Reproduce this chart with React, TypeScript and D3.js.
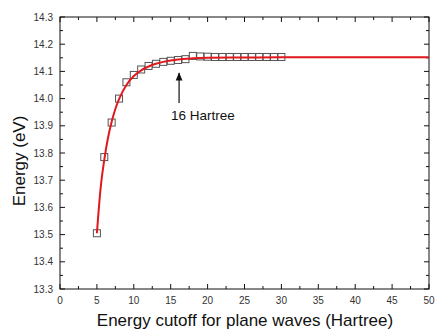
import React from "react";
import * as d3 from "d3";

// Calculated total energy at each plane-wave cutoff (Hartree -> eV)
const cutoffs = [5, 6, 7, 8, 9, 10, 11, 12, 13, 14, 15, 16, 17, 18, 19, 20, 21, 22, 23, 24, 25, 26, 27, 28, 29, 30];
const energies = [
  13.505, 13.785, 13.912, 14.0, 14.06, 14.087, 14.107, 14.12, 14.128, 14.135, 14.139, 14.142, 14.145,
  14.157, 14.155, 14.154, 14.153, 14.153, 14.153, 14.153, 14.153, 14.153, 14.153, 14.153, 14.153, 14.153,
];

// Fitted convergence curve
const fitX = [5, 5.5, 6, 6.5, 7, 7.5, 8, 9, 10, 11, 12, 13, 14, 15, 16, 18, 20, 25, 30, 40, 50];
const fitY = [
  13.505, 13.67, 13.775, 13.855, 13.915, 13.962, 13.998, 14.05, 14.083, 14.104, 14.118, 14.128, 14.135,
  14.14, 14.144, 14.148, 14.15, 14.151, 14.152, 14.152, 14.152,
];

const xTicks = [0, 5, 10, 15, 20, 25, 30, 35, 40, 45, 50];
const yTicks = [13.3, 13.4, 13.5, 13.6, 13.7, 13.8, 13.9, 14.0, 14.1, 14.2, 14.3];

const annotation = { x: 16, label: "16 Hartree" };

const W = 436;
const H = 331;
const M = { left: 60, right: 429, top: 17, bottom: 289 };

export default function App() {
  const x = d3.scaleLinear().domain([0, 50]).range([M.left, M.right]);
  const y = d3.scaleLinear().domain([13.3, 14.3]).range([M.bottom, M.top]);

  const line = d3
    .line<number>()
    .x((_, i) => x(fitX[i]))
    .y((d) => y(d))
    .curve(d3.curveMonotoneX);

  const xMinor = d3.range(0, 50.01, 2.5);
  const yMinor = d3.range(13.3, 14.301, 0.05);
  const font = "Arial, 'Liberation Sans', sans-serif";
  const sq = 7;
  const ax = x(annotation.x) + 1;

  return (
    <svg
      width={W}
      height={H}
      style={{ position: "absolute", left: 0, top: 0, background: "#fff" }}
      fontFamily={font}
    >
      <defs>
        <marker id="arrowHead" viewBox="0 0 10 10" refX="9" refY="5" markerWidth="7" markerHeight="9" orient="auto">
          <path d="M0,1 L10,5 L0,9 z" fill="#111" />
        </marker>
      </defs>

      {/* frame */}
      <rect
        x={M.left}
        y={M.top}
        width={M.right - M.left}
        height={M.bottom - M.top}
        fill="none"
        stroke="#111"
        strokeWidth={1}
      />

      {/* x ticks, bottom and top, pointing inward */}
      {xMinor.map((v) => {
        const major = Math.abs(v % 5) < 1e-6;
        const len = major ? 5 : 3;
        return (
          <g key={"xt" + v} stroke="#111" strokeWidth={1}>
            <line x1={x(v)} x2={x(v)} y1={M.bottom} y2={M.bottom - len} />
            <line x1={x(v)} x2={x(v)} y1={M.top} y2={M.top + len} />
          </g>
        );
      })}
      {/* y ticks, left and right */}
      {yMinor.map((v, i) => {
        const major = i % 2 === 0;
        const len = major ? 5 : 3;
        return (
          <g key={"yt" + i} stroke="#111" strokeWidth={1}>
            <line x1={M.left} x2={M.left + len} y1={y(v)} y2={y(v)} />
            <line x1={M.right} x2={M.right - len} y1={y(v)} y2={y(v)} />
          </g>
        );
      })}

      {/* tick labels */}
      {xTicks.map((v) => (
        <text key={"xl" + v} x={x(v)} y={303.5} fontSize={10} fill="#333" textAnchor="middle">
          {v}
        </text>
      ))}
      {yTicks.map((v) => (
        <text key={"yl" + v} x={53} y={y(v) + 3.5} fontSize={10} fill="#333" textAnchor="end">
          {v.toFixed(1)}
        </text>
      ))}

      {/* axis titles */}
      <text x={245} y={326} fontSize={17} fill="#111" textAnchor="middle">
        Energy cutoff for plane waves (Hartree)
      </text>
      <text
        transform={`translate(25,161) rotate(-90)`}
        fontSize={17}
        fill="#111"
        textAnchor="middle"
      >
        Energy (eV)
      </text>

      {/* data squares */}
      {cutoffs.map((c, i) => (
        <rect
          key={"p" + c}
          x={x(c) - sq / 2}
          y={y(energies[i]) - sq / 2}
          width={sq}
          height={sq}
          fill="none"
          stroke="#555"
          strokeWidth={1}
        />
      ))}

      {/* fitted curve */}
      <path d={line(fitY) || ""} fill="none" stroke="#e0191e" strokeWidth={2} />

      {/* annotation arrow */}
      <line x1={ax} x2={ax} y1={103} y2={73} stroke="#111" strokeWidth={1.2} markerEnd="url(#arrowHead)" />
      <text x={203} y={120} fontSize={13.5} fill="#111" textAnchor="middle">
        {annotation.label}
      </text>
    </svg>
  );
}
